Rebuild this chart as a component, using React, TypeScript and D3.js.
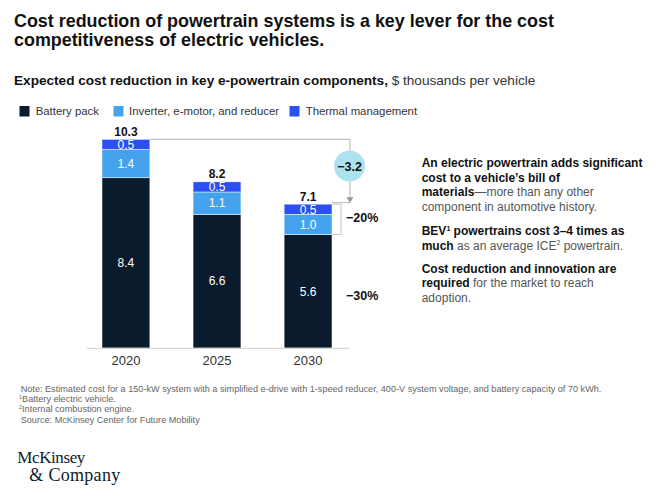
import React from "react";
import * as d3 from "d3";

const years = ["2020", "2025", "2030"];
const battery = [8.4, 6.6, 5.6];
const inverter = [1.4, 1.1, 1.0];
const thermal = [0.5, 0.5, 0.5];
const totals = [10.3, 8.2, 7.1];
const seriesNames = ["Battery pack", "Inverter, e-motor, and reducer", "Thermal management"];
const seriesColors = ["#0b1b2e", "#44a3ec", "#2a4ff2"];
const totalChange = "\u22123.2";
const shareLabels = ["\u221220%", "\u221230%"];

const FONT = "'Liberation Sans', Arial, Helvetica, sans-serif";
const SERIF = "'Liberation Serif', 'Times New Roman', serif";

export default function App() {
  const W = 668;
  const H = 503;

  const x = d3.scaleBand<string>().domain(years).range([102, 332]).paddingInner(0.474).paddingOuter(0);
  const y = d3.scaleLinear().domain([0, 10.3]).range([348, 139.3]);

  const rows = years.map((yr, i) => ({ year: yr, battery: battery[i], inverter: inverter[i], thermal: thermal[i] }));
  const keys = ["battery", "inverter", "thermal"];
  const stacked = d3.stack<any>().keys(keys)(rows);

  const bw = x.bandwidth();
  const first = years[0];
  const last = years[years.length - 1];
  const x1Right = (x(first) as number) + bw;
  const x3Right = (x(last) as number) + bw;
  const annX = 350;
  const topY = y(totals[0]);
  const lastTop = y(totals[totals.length - 1]);
  const lastBatteryTop = y(battery[battery.length - 1]);
  const bracketX = 341;

  const legendItems = [
    { sx: 19.5, tx: 35.7 },
    { sx: 113.5, tx: 129 },
    { sx: 289.5, tx: 305.7 },
  ];

  const sideText = [
    { y: 167.3, parts: [{ t: "An electric powertrain adds significant", b: true }] },
    { y: 181.8, parts: [{ t: "cost to a vehicle\u2019s bill of", b: true }] },
    { y: 196.3, parts: [{ t: "materials", b: true }, { t: "\u2014more than any other", b: false }] },
    { y: 210.8, parts: [{ t: "component in automotive history.", b: false }] },
    { y: 235, parts: [{ t: "BEV", b: true }, { t: "1", b: true, sup: true }, { t: " powertrains cost 3\u20134 times as", b: true, after: true }] },
    { y: 249.5, parts: [{ t: "much", b: true }, { t: " as an average ICE", b: false }, { t: "2", b: false, sup: true }, { t: " powertrain.", b: false, after: true }] },
    { y: 272.7, parts: [{ t: "Cost reduction and innovation are", b: true }] },
    { y: 287.2, parts: [{ t: "required", b: true }, { t: " for the market to reach", b: false }] },
    { y: 301.7, parts: [{ t: "adoption.", b: false }] },
  ];

  return (
    <svg width={W} height={H} style={{ position: "absolute", left: 0, top: 0, background: "#fff" }} fontFamily={FONT}>
      <rect width={W} height={H} fill="#fff" />
      {/* Title */}
      <text x={14} y={26.7} fontSize={17.9} fontWeight={700} fill="#111">
        Cost reduction of powertrain systems is a key lever for the cost
      </text>
      <text x={14} y={46.3} fontSize={17.9} fontWeight={700} fill="#111">
        competitiveness of electric vehicles.
      </text>
      {/* Subtitle */}
      <text x={14} y={85} fontSize={13.6} fill="#111">
        <tspan fontWeight={700}>Expected cost reduction in key e-powertrain components,</tspan>
        <tspan fill="#333"> $ thousands per vehicle</tspan>
      </text>
      {/* Legend */}
      {seriesNames.map((n, i) => (
        <g key={n}>
          <rect x={legendItems[i].sx} y={106} width={10} height={10.5} fill={seriesColors[i]} />
          <text x={legendItems[i].tx} y={115.3} fontSize={11.4} fill="#333">
            {n}
          </text>
        </g>
      ))}

      {/* Bars */}
      {stacked.map((s, si) => (
        <g key={keys[si]}>
          {s.map((d, i) => {
            const yr = years[i];
            const y0 = y(d[0]);
            const y1 = y(d[1]);
            const val = d[1] - d[0];
            return (
              <g key={yr}>
                <rect x={x(yr)} y={y1} width={bw} height={y0 - y1} fill={seriesColors[si]} stroke="#fff" strokeWidth={0.5} />
                <text
                  x={(x(yr) as number) + bw / 2}
                  y={(y0 + y1) / 2}
                  dy="0.36em"
                  textAnchor="middle"
                  fontSize={12}
                  fill="#fff"
                >
                  {val.toFixed(1)}
                </text>
              </g>
            );
          })}
        </g>
      ))}

      {/* Totals */}
      {years.map((yr, i) => (
        <text key={yr} x={(x(yr) as number) + bw / 2} y={y(totals[i]) - 3.5} textAnchor="middle" fontSize={12} fontWeight={700} fill="#111">
          {totals[i].toFixed(1)}
        </text>
      ))}

      {/* Baseline */}
      <line x1={87} x2={349} y1={348.3} y2={348.3} stroke="#cfcfcf" strokeWidth={1} />
      {years.map((yr) => (
        <text key={yr} x={(x(yr) as number) + bw / 2} y={364.5} textAnchor="middle" fontSize={13} fill="#333">
          {yr}
        </text>
      ))}

      {/* Change annotation */}
      <path d={`M${x1Right},${topY}H${annX}V${lastTop - 6}`} fill="none" stroke="#b5b5b5" strokeWidth={1} />
      <path d={`M${annX - 3.5},${lastTop - 7}L${annX + 3.5},${lastTop - 7}L${annX},${lastTop - 1.5}Z`} fill="#999" />
      <path d={`M${x3Right},${lastTop - 1.5}H${annX}`} fill="none" stroke="#b5b5b5" strokeWidth={1} />
      <circle cx={annX - 0.5} cy={166} r={15.5} fill="#ade3ee" />
      <text x={annX - 0.5} y={166} dy="0.36em" textAnchor="middle" fontSize={12.5} fontWeight={700} fill="#111">
        {totalChange}
      </text>

      {/* Bracket */}
      <path d={`M${x3Right},${lastTop}H${bracketX}V${lastBatteryTop}H${x3Right}`} fill="none" stroke="#c4c4c4" strokeWidth={1} />
      <text x={346} y={222} fontSize={12.5} fontWeight={700} fill="#111">
        {shareLabels[0]}
      </text>
      <text x={346} y={299.5} fontSize={12.5} fontWeight={700} fill="#111">
        {shareLabels[1]}
      </text>

      {/* Side text */}
      {sideText.map((line, li) => (
        <text key={li} x={421.7} y={line.y} fontSize={12} fill="#111">
          {line.parts.map((p: any, pi) => (
            <tspan
              key={pi}
              fontWeight={p.b ? 700 : 400}
              fill={p.b ? "#111" : "#555"}
              fontSize={p.sup ? 7 : 12}
              dy={p.sup ? -4.5 : p.after ? 4.5 : 0}
            >
              {p.t}
            </tspan>
          ))}
        </text>
      ))}

      {/* Footnotes */}
      <text x={20.7} y={392.3} fontSize={9.15} fill="#666">
        Note: Estimated cost for a 150-kW system with a simplified e-drive with 1-speed reducer, 400-V system voltage, and battery capacity of 70 kWh.
      </text>
      <text x={19} y={402.3} fontSize={9.15} fill="#666">
        <tspan fontSize={5.5} dy={-3}>1</tspan>
        <tspan dy={3}>Battery electric vehicle.</tspan>
      </text>
      <text x={19} y={412.3} fontSize={9.15} fill="#666">
        <tspan fontSize={5.5} dy={-3}>2</tspan>
        <tspan dy={3}>Internal combustion engine.</tspan>
      </text>
      <text x={20.7} y={423.3} fontSize={9.15} fill="#666">
        Source: McKinsey Center for Future Mobility
      </text>

      {/* Logo */}
      <text x={17.3} y={463.3} fontSize={17} fill="#0b1b2e" fontFamily={SERIF} letterSpacing={-0.4}>
        McKinsey
      </text>
      <text x={29.3} y={481} fontSize={18} fill="#0b1b2e" fontFamily={SERIF} letterSpacing={0.3}>
        &amp; Company
      </text>
    </svg>
  );
}
